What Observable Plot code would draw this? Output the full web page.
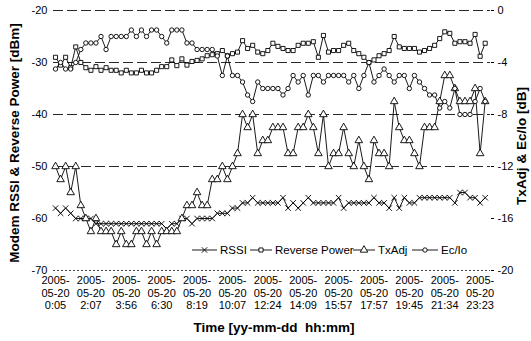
<!DOCTYPE html>
<html><head><meta charset="utf-8">
<script src="https://cdn.jsdelivr.net/npm/d3@7"></script>
<script src="https://cdn.jsdelivr.net/npm/@observablehq/plot@0.6"></script>
<style>
body{margin:0;background:#fff;}
#wrap{position:relative;width:531px;height:341px;font-family:"Liberation Sans",Arial,sans-serif;color:#000;}
.it{position:absolute;top:244px;font-size:11.5px;line-height:12px;display:flex;align-items:center;white-space:nowrap;}
.it svg{display:block;margin-right:3px;}
</style></head><body><div id="wrap"></div>
<script>
// Values (86 samples, 2005-05-20)
const rssi = [-58,-59,-58,-59,-60,-60,-60,-60,-61,-61, -61,-61,-61,-61,-61,-61,-61,-61,-61,-61, -61,-61,-62,-61,-61,-60,-60,-61,-60,-60, -60,-60,-59,-59,-59,-58,-58,-57,-57,-56, -57,-57,-57,-57,-57,-56,-58,-57,-58,-57, -56,-57,-57,-57,-57,-57,-56,-58,-57,-57, -57,-57,-57,-56,-57,-57,-58,-56,-58,-56, -57,-57,-56,-56,-56,-56,-56,-56,-56,-57, -55,-55,-56,-56,-57,-56];
const reversePower = [-29,-30.5,-29,-31,-27,-30,-31,-31.5,-30.8,-31.5, -31,-31.5,-31.5,-32,-31.5,-32,-32,-31.5,-32,-32, -31.5,-30.8,-30.8,-29.5,-30.6,-29.3,-30.5,-29.8,-29.6,-29.3, -28.7,-28.5,-28.3,-27.7,-28.7,-28.3,-28,-25.8,-27.3,-26.7, -28,-28.3,-27.7,-26.3,-26.9,-27.3,-27.7,-27.7,-26.7,-26.3, -26.3,-26,-29,-24.8,-28,-27.7,-27.7,-26.7,-26.3,-27.7, -28.3,-29,-30,-29.5,-28.7,-28.3,-27.7,-25,-27,-27.3, -27.3,-27.3,-28,-27.7,-27.3,-26.7,-25.4,-24.1,-24.4,-26.3, -26,-26,-26.3,-24.6,-28.8,-26.3];
const txAdj = [-12,-13,-12,-14,-12,-15,-16,-17,-16,-17, -17,-17,-18,-17,-18,-18,-17,-17,-18,-17, -18,-17,-17,-17,-17,-16,-15,-15,-14,-15, -15,-13,-13,-12,-13,-12,-11,-8,-9,-8, -11,-10,-10,-9,-9,-9,-11,-11,-9,-9, -8,-9,-11,-8,-12,-11,-11,-9,-11,-12, -10,-12,-13,-10,-11,-11,-12,-7,-9,-10, -10,-11,-12,-9,-9,-9,-7,-5,-5,-6, -7,-7,-7,-6,-11,-7];
const ecIo = [-4.5,-4,-4.5,-4.5,-4,-3,-2.5,-2.5,-2.5,-2, -3,-2,-2,-2,-2,-1.5,-2,-1.5,-2,-1.5, -1.5,-2,-2.5,-1.5,-1.5,-1.5,-2.5,-2.5,-3,-3, -3,-3,-3.5,-5,-3.5,-5,-5,-5.5,-6.5,-7, -5.5,-6,-6,-6,-6,-6.5,-6,-5,-5.5,-5, -6.5,-5,-5,-5.5,-5,-5,-5,-5,-5.5,-5, -6,-5,-4,-5.5,-5,-4.5,-5,-5.5,-5,-5, -6,-5,-5.5,-6,-6.5,-6.5,-7.5,-7,-7.5,-6, -8,-8,-8,-7,-6,-7];
const dateLabel = "2005-\n05-20";
const timeLabels = ["0:05","2:07","3:56","6:30","8:19","10:07","12:24","14:09","15:57","17:57","19:45","21:34","23:23"];
const labelStep = 7;
const leftTicks = [-20,-30,-40,-50,-60,-70];
const gridLevels = [-20,-30,-40,-50];
const seriesNames = ["RSSI","Reverse Power","TxAdj","Ec/Io"];
const leftTitle = "Modem RSSI & Reverse Power [dBm]";
const rightTitle = "TxAdj & Ec/Io [dB]";
const xTitle = "Time [yy-mm-dd\u00a0\u00a0hh:mm]";

const n = rssi.length;
const rows = d3.range(n).map(i => ({i, rssi: rssi[i], rp: reversePower[i], tx: txAdj[i], ec: ecIo[i]}));
const toLeft = db => db * 2.5 - 20;   // right axis (dB) -> left axis (dBm)
const toRight = v => (v + 20) / 2.5;
const fmt = v => (v < 0 ? "-" + Math.abs(v) : String(v));

const series = [
  {label: seriesNames[0], symbol: "times", r: 2.6, y: d => d.rssi},
  {label: seriesNames[1], symbol: "square", r: 2.3, y: d => d.rp},
  {label: seriesNames[2], symbol: "triangle", r: 2.8, y: d => toLeft(d.tx)},
  {label: seriesNames[3], symbol: "circle", r: 2.2, y: d => toLeft(d.ec)}
];

const marks = [
  Plot.ruleY(gridLevels, {stroke: "#111", strokeWidth: 0.9, strokeDasharray: "10,4"}),
  Plot.ruleY([-70], {stroke: "#333", strokeWidth: 0.9, strokeDasharray: "2,2"}),
];
for (const s of series) {
  marks.push(Plot.line(rows, {x: "i", y: s.y, stroke: "#000", strokeWidth: 0.9}));
}
for (const s of series) {
  marks.push(Plot.dot(rows, {x: "i", y: s.y, symbol: s.symbol, r: s.r, stroke: "#000", strokeWidth: 0.9, fill: s.symbol === "times" ? "none" : "#fff"}));
}
marks.push(
  Plot.axisY({ticks: leftTicks, anchor: "left", tickFormat: fmt, tickSize: 0, tickPadding: 6, fontSize: 11, label: null}),
  Plot.axisY({ticks: leftTicks, anchor: "right", tickFormat: v => fmt(toRight(v)), tickSize: 3, tickPadding: 4, fontSize: 11, label: null}),
  Plot.axisX({ticks: d3.range(0, n, labelStep), tickFormat: i => dateLabel + "\n" + timeLabels[i / labelStep], tickSize: 0, tickPadding: 5, fontSize: 11, lineHeight: 1.12, label: null})
);

const chart = Plot.plot({
  width: 531, height: 341,
  marginLeft: 53, marginRight: 41, marginTop: 10, marginBottom: 71,
  x: {domain: [-0.4, n + 0.05], axis: null},
  y: {domain: [-70, -20], axis: null},
  style: {fontFamily: "'Liberation Sans', Arial, sans-serif", fontSize: "11px", background: "#fff", color: "#000", overflow: "visible"},
  marks
});
const wrap = document.getElementById("wrap");
wrap.appendChild(chart);

// axis titles
const svg = d3.select(chart);
const titles = svg.append("g").attr("font-weight", "bold").attr("font-size", 13.5).attr("text-anchor", "middle").attr("fill", "#000");
titles.append("text").attr("transform", "translate(19,143) rotate(-90)").text(leftTitle);
titles.append("text").attr("transform", "translate(526,146) rotate(-90)").text(rightTitle);
titles.append("text").attr("x", 274).attr("y", 332).text(xTitle);

// legend overlay
const legendLeft = [192, 250, 353, 412];
const iconW = [25, 22, 22, 26];
const symType = {times: d3.symbolTimes, square: d3.symbolSquare, triangle: d3.symbolTriangle, circle: d3.symbolCircle};
series.forEach((s, k) => {
  const it = document.createElement("div");
  it.className = "it";
  it.style.left = legendLeft[k] + "px";
  const w = iconW[k];
  const ic = d3.create("svg").attr("width", w).attr("height", 10);
  ic.append("line").attr("x1", 0).attr("x2", w).attr("y1", 5).attr("y2", 5).attr("stroke", "#000").attr("stroke-width", 0.9);
  ic.append("path").attr("transform", `translate(${w / 2},5)`)
    .attr("d", d3.symbol().type(symType[s.symbol]).size(s.r * s.r * Math.PI)())
    .attr("fill", s.symbol === "times" ? "none" : "#fff").attr("stroke", "#000").attr("stroke-width", 0.9);
  it.appendChild(ic.node());
  const t = document.createElement("span");
  t.textContent = s.label;
  it.appendChild(t);
  wrap.appendChild(it);
});
</script></body></html>
